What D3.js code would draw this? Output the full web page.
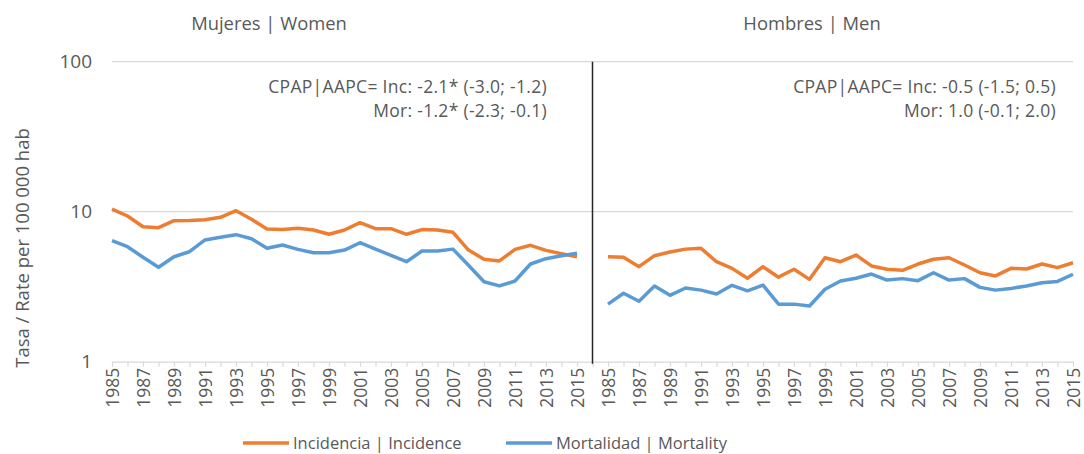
<!DOCTYPE html>
<html>
<head>
<meta charset="utf-8">
<script src="https://cdn.jsdelivr.net/npm/d3@7/dist/d3.min.js"></script>
<style>
  body { margin: 0; background: #fff; }
  svg text { font-family: "Open Sans", "Noto Sans", sans-serif; fill: #595959; }
</style>
</head>
<body>
<div id="chart"></div>
<script>
const years = d3.range(1985, 2016);

const womenIncidence = [10.4, 9.36, 7.94, 7.82, 8.71, 8.75, 8.85, 9.18, 10.15, 8.9,
  7.67, 7.6, 7.75, 7.55, 7.07, 7.55, 8.45, 7.7, 7.7, 7.07,
  7.6, 7.55, 7.29, 5.55, 4.82, 4.7, 5.61, 5.97, 5.52, 5.25, 5.01];
const womenMortality = [6.41, 5.84, 4.97, 4.26, 5.01, 5.41, 6.48, 6.75, 7.03, 6.6,
  5.7, 6.0, 5.61, 5.33, 5.33, 5.55, 6.21, 5.63, 5.12, 4.64,
  5.47, 5.47, 5.63, 4.39, 3.41, 3.2, 3.45, 4.48, 4.86, 5.09, 5.28];
const menIncidence = [5.01, 4.97, 4.3, 5.09, 5.39, 5.63, 5.7, 4.64, 4.19, 3.6,
  4.3, 3.66, 4.13, 3.54, 4.93, 4.64, 5.14, 4.35, 4.13, 4.07,
  4.48, 4.82, 4.93, 4.41, 3.92, 3.73, 4.19, 4.15, 4.48, 4.24, 4.57];
const menMortality = [2.42, 2.86, 2.53, 3.2, 2.77, 3.1, 3.0, 2.83, 3.23, 2.97,
  3.24, 2.42, 2.42, 2.35, 3.04, 3.45, 3.6, 3.84, 3.5, 3.58,
  3.47, 3.92, 3.5, 3.58, 3.13, 3.0, 3.08, 3.2, 3.36, 3.43, 3.83];

const panelTitles = ["Mujeres | Women", "Hombres | Men"];
const aapcWomen = ["CPAP|AAPC= Inc: -2.1* (-3.0; -1.2)", "Mor: -1.2* (-2.3; -0.1)"];
const aapcMen = ["CPAP|AAPC= Inc: -0.5 (-1.5; 0.5)", "Mor: 1.0 (-0.1; 2.0)"];
const yTicks = [1, 10, 100];
const seriesNames = ["Incidencia | Incidence", "Mortalidad | Mortality"];
const colors = ["#ED7D31", "#5B9BD5"];

const width = 1084, height = 454;
const plotLeft = 112, plotRight = 1073, plotTop = 61.7, plotBottom = 361.7;

// one shared category axis: women years, an empty slot, then men years
const keys = years.map(y => "W" + y).concat(["gap"], years.map(y => "M" + y));

const x = d3.scalePoint().domain(keys).range([plotLeft, plotRight]).padding(0);
const y = d3.scaleLog().domain([1, 100]).range([plotBottom, plotTop]);

const svg = d3.select("#chart").append("svg")
  .attr("width", width).attr("height", height);

// gridlines
svg.append("g").selectAll("line")
  .data(yTicks.slice(1))
  .join("line")
  .attr("x1", plotLeft).attr("x2", plotRight)
  .attr("y1", d => y(d)).attr("y2", d => y(d))
  .attr("stroke", "#D9D9D9").attr("stroke-width", 1.3);

// x axis
const xAxis = svg.append("g")
  .attr("transform", `translate(0,${plotBottom})`)
  .call(d3.axisBottom(x).tickSize(5).tickSizeOuter(0)
    .tickFormat(k => {
      if (k === "gap") return "";
      const yr = +k.slice(1);
      return (yr - 1985) % 2 === 0 ? yr : "";
    }));
xAxis.select(".domain").attr("stroke", "#D9D9D9").attr("stroke-width", 1.3);
xAxis.selectAll(".tick line").attr("stroke", "#D9D9D9").attr("stroke-width", 1.2);
xAxis.selectAll(".tick text")
  .attr("transform", "rotate(-90)")
  .attr("text-anchor", "end")
  .attr("x", -6).attr("y", 0).attr("dy", "0.36em")
  .style("font-size", "17.5px");

// y axis labels
svg.append("g").selectAll("text")
  .data(yTicks)
  .join("text")
  .attr("x", 92).attr("y", d => y(d)).attr("dy", "0.35em")
  .attr("text-anchor", "end")
  .style("font-size", "19px")
  .text(d => d);

svg.append("text")
  .attr("transform", `translate(29,248) rotate(-90)`)
  .attr("text-anchor", "middle")
  .style("font-size", "18.5px")
  .text("Tasa / Rate per 100 000 hab");

// divider between panels
svg.append("line")
  .attr("x1", x("gap")).attr("x2", x("gap"))
  .attr("y1", plotTop).attr("y2", plotBottom + 2)
  .attr("stroke", "#262626").attr("stroke-width", 1.5);

// lines
const line = d3.line().x(d => x(d.k)).y(d => y(d.v));
const series = [
  { prefix: "W", vals: womenIncidence, c: colors[0] },
  { prefix: "W", vals: womenMortality, c: colors[1] },
  { prefix: "M", vals: menIncidence, c: colors[0] },
  { prefix: "M", vals: menMortality, c: colors[1] }
];
svg.append("g").selectAll("path")
  .data(series)
  .join("path")
  .attr("fill", "none")
  .attr("stroke", d => d.c)
  .attr("stroke-width", 3.5)
  .attr("stroke-linejoin", "round")
  .attr("d", d => line(d.vals.map((v, i) => ({ k: d.prefix + years[i], v }))));

// panel titles
svg.append("g").selectAll("text")
  .data(panelTitles)
  .join("text")
  .attr("x", (d, i) => i === 0 ? 269 : 812)
  .attr("y", 30)
  .attr("text-anchor", "middle")
  .style("font-size", "18.4px")
  .text(d => d);

// AAPC annotations
const notes = [{ lines: aapcWomen, x: 547 }, { lines: aapcMen, x: 1056 }];
notes.forEach(n => {
  svg.append("g").selectAll("text")
    .data(n.lines)
    .join("text")
    .attr("x", n.x)
    .attr("y", (d, i) => 93 + i * 24)
    .attr("text-anchor", "end")
    .style("font-size", "17.5px")
    .style("letter-spacing", "0.3px")
    .text(d => d);
});

// legend
const legendX = [243, 506];
const lg = svg.append("g").selectAll("g")
  .data(seriesNames)
  .join("g")
  .attr("transform", (d, i) => `translate(${legendX[i]},443)`);
lg.append("line")
  .attr("x1", 0).attr("x2", 46)
  .attr("stroke", (d, i) => colors[i]).attr("stroke-width", 3.5);
lg.append("text")
  .attr("x", 50).attr("dy", "0.35em")
  .style("font-size", "16.5px")
  .text(d => d);
</script>
</body>
</html>
